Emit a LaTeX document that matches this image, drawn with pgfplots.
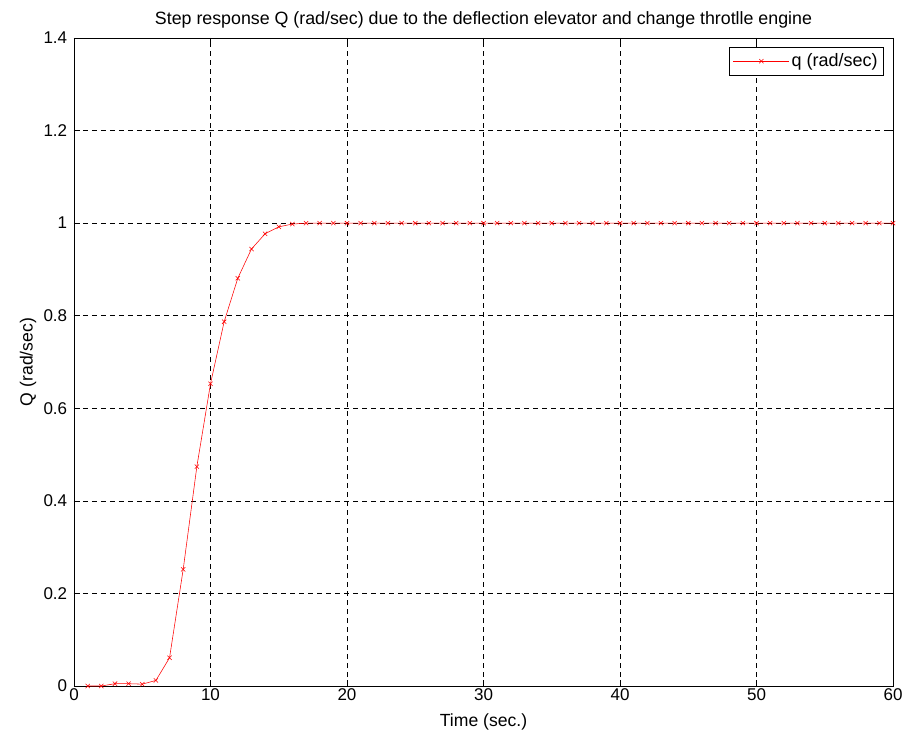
\documentclass[border=0pt]{standalone}
\usepackage{pgfplots}
\pgfplotsset{compat=1.18}
\usepackage{fontspec}
\setmainfont{Liberation Sans}
\begin{document}
\fontsize{17bp}{20bp}\selectfont
\begin{tikzpicture}
\path[use as bounding box] (-74bp,-49bp) rectangle (828bp,686bp);
\begin{axis}[
  at={(0,0)}, anchor=south west,
  scale only axis, width=819bp, height=648bp,
  xmin=0, xmax=60, ymin=0, ymax=1.4,
  xtick={0,10,...,60}, ytick={0,0.2,...,1.4},
  yticklabels={0,0.2,0.4,0.6,0.8,1,1.2,1.4},
  /pgf/number format/assume math mode=true,
  tick label style={font=\fontsize{17bp}{20bp}\selectfont},
  xticklabel style={anchor=center, yshift=-9bp},
  yticklabel style={anchor=east, xshift=-1bp},
  tick align=inside, major tick length=6bp,
  tick style={black, line width=0.6pt},
  grid=major, grid style={black, dash pattern=on 5bp off 4bp, line width=0.45pt},
  axis line style={black, line width=0.7pt},
  title={Step response Q (rad/sec) due to the deflection elevator and change throtlle engine},
  title style={at={(axis description cs:0.5,1)}, anchor=center, yshift=12bp, font=\fontsize{17.8bp}{20bp}\selectfont},
  xlabel={Time (sec.)}, ylabel={Q (rad/sec)},
  xlabel style={at={(axis description cs:0.5,0)}, anchor=center, yshift=-36bp, font=\fontsize{17.6bp}{20bp}\selectfont},
  ylabel style={at={([xshift=-46bp]axis description cs:0,0.5)}, anchor=center, font=\fontsize{17.6bp}{20bp}\selectfont},
  legend style={at={(axis description cs:0.989,0.986)}, anchor=north east, draw=black, line width=0.7pt, font=\fontsize{18bp}{20bp}\selectfont, inner xsep=4bp, inner ysep=4bp},
  legend cell align=left,
  legend image code/.code={\draw[#1] (0bp,0bp) -- (56bp,0bp); \draw[#1, only marks] plot coordinates {(28bp,0bp)};},
]
\addplot[red, line width=0.55pt, mark=x, mark size=3bp, mark options={solid}] coordinates {
(1,0) (2,0) (3,0.005) (4,0.005) (5,0.004) (6,0.012) (7,0.061) (8,0.252) (9,0.474) (10,0.653)
(11,0.787) (12,0.881) (13,0.944) (14,0.977) (15,0.992) (16,0.998) (17,1.0) (18,1.0) (19,1.0) (20,1.0)
(21,1) (22,1) (23,1) (24,1) (25,1) (26,1) (27,1) (28,1) (29,1) (30,1)
(31,1) (32,1) (33,1) (34,1) (35,1) (36,1) (37,1) (38,1) (39,1) (40,1)
(41,1) (42,1) (43,1) (44,1) (45,1) (46,1) (47,1) (48,1) (49,1) (50,1)
(51,1) (52,1) (53,1) (54,1) (55,1) (56,1) (57,1) (58,1) (59,1) (60,1)
};
\addlegendentry{q (rad/sec)}
\end{axis}
\end{tikzpicture}
\end{document}
